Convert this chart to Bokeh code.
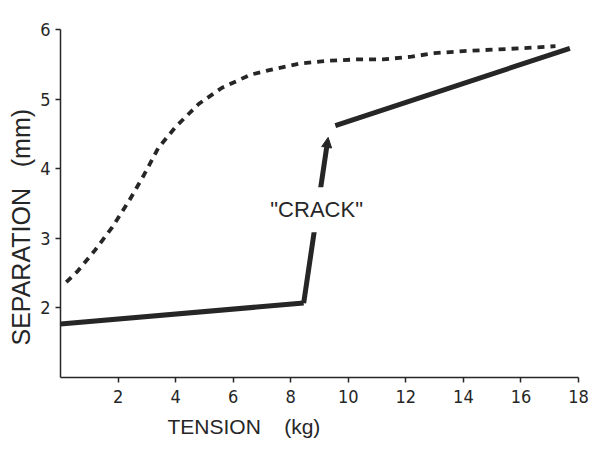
from bokeh.plotting import figure
from bokeh.models import Range1d, FixedTicker, Label, Arrow, NormalHead, Title
from bokeh.embed import file_html
from bokeh.resources import INLINE

# Dashed curve (upper)
dashed_x = [0.2, 0.6, 1.2, 1.8, 2.4, 2.9, 3.4, 4.0, 4.8, 5.6, 6.6, 7.4, 8.3,
            9.3, 10.3, 11.2, 12.2, 13.0, 14.0, 15.0, 16.0, 17.2]
dashed_y = [2.37, 2.53, 2.83, 3.16, 3.55, 3.91, 4.30, 4.60, 4.93, 5.16, 5.35,
            5.43, 5.51, 5.55, 5.57, 5.57, 5.61, 5.66, 5.69, 5.71, 5.73, 5.76]

# Solid curve: before crack, the crack jump, after crack
lower_x = [0.0, 8.45]
lower_y = [1.77, 2.07]
crack_x = [8.45, 9.3]
crack_y = [2.07, 4.45]
upper_x = [9.55, 17.7]
upper_y = [4.62, 5.73]

x_ticks = [2, 4, 6, 8, 10, 12, 14, 16, 18]
y_ticks = [2, 3, 4, 5, 6]

NB = "\u00a0"
x_label = "TENSION" + NB * 4 + "(kg)"
y_label = "SEPARATION" + NB * 3 + "(mm)"

INK = "#262626"
LABEL_FONT = "Liberation Sans"
TICK_FONT = "DejaVu Sans Condensed, Liberation Sans, sans-serif"

p = figure(width=600, height=455, output_backend="svg", toolbar_location=None,
           x_range=Range1d(0, 18), y_range=Range1d(1, 6),
           min_border_left=60, min_border_right=22,
           min_border_top=29, min_border_bottom=78)
p.outline_line_color = None
p.grid.visible = False
p.background_fill_color = "white"
p.border_fill_color = "white"

for ax in (p.xaxis[0], p.yaxis[0]):
    ax.axis_line_color = INK
    ax.axis_line_width = 1.5
    ax.major_tick_line_color = INK
    ax.major_tick_line_width = 1.5
    ax.major_tick_in = 0
    ax.major_tick_out = 5
    ax.minor_tick_line_color = None
    ax.major_label_text_font = TICK_FONT
    ax.major_label_text_font_size = "18px"
    ax.major_label_text_color = INK

p.xaxis[0].ticker = FixedTicker(ticks=x_ticks)
p.yaxis[0].ticker = FixedTicker(ticks=y_ticks)
p.xaxis[0].major_label_standoff = 7
p.yaxis[0].major_label_standoff = 5

p.add_layout(Title(text=x_label, align="left", offset=107, standoff=15,
                   text_font=LABEL_FONT, text_font_size="21px",
                   text_font_style="normal", text_color=INK), "below")
p.add_layout(Title(text=y_label, align="left", offset=32, standoff=6,
                   text_font=LABEL_FONT, text_font_size="25px",
                   text_font_style="normal", text_color=INK), "left")

p.line(dashed_x, dashed_y, line_color=INK, line_width=3.8, line_dash="7 6")
p.line(lower_x, lower_y, line_color=INK, line_width=5)
p.line(upper_x, upper_y, line_color=INK, line_width=5)

p.add_layout(Arrow(end=NormalHead(size=10, fill_color=INK, line_color=INK),
                   x_start=crack_x[0], y_start=crack_y[0],
                   x_end=crack_x[1], y_end=crack_y[1],
                   line_color=INK, line_width=5))

p.add_layout(Label(x=8.9, y=3.41, text='"CRACK"', text_align="center",
                   text_baseline="middle", text_font=LABEL_FONT,
                   text_font_size="22px", text_color=INK,
                   background_fill_color="white", padding=10))

open("out.html", "w").write(file_html(p, INLINE))
